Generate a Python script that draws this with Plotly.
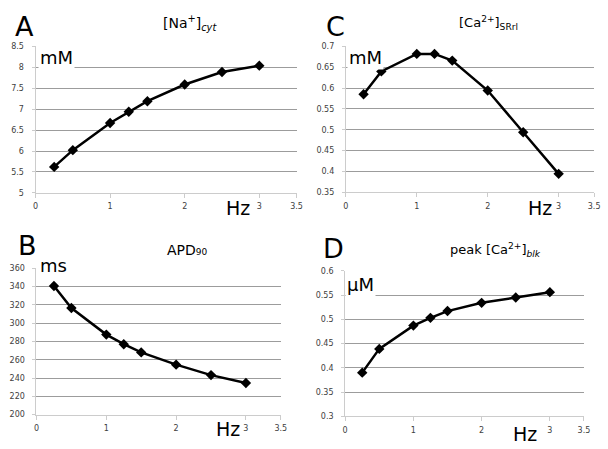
import plotly.graph_objects as go

W, H = 608, 449

# Stimulation frequency (Hz)
freq = [0.25, 0.5, 1, 1.25, 1.5, 2, 2.5, 3]

# Steady-state quantities versus pacing frequency
na_cyt = [5.62, 6.02, 6.67, 6.94, 7.19, 7.59, 7.89, 8.04]           # mM
apd90 = [340.7, 316.5, 287.5, 277.0, 268.0, 254.6, 243.2, 234.5]     # ms
ca_srrl = [0.585, 0.640, 0.682, 0.682, 0.666, 0.594, 0.494, 0.394]   # mM
ca_blk = [0.390, 0.439, 0.487, 0.503, 0.517, 0.534, 0.545, 0.556]    # uM

x_ticks = [0, 1, 2, 3, 3.5]
x_ticktext = ["0", "1", "2", "3", "3.5"]


def px(x):
    return x / W


def py(y):
    return 1 - y / H


# panel boxes in pixels: (left, right, top, bottom)
boxes = {
    "A": (33, 298, 43.3, 192.7),
    "C": (348, 600, 43.3, 192.0),
    "B": (34, 282, 269.7, 419.0),
    "D": (347.3, 589.7, 272.3, 420.7),
}

panels = [
    # key, axis suffix, data, y range, y dtick
    ("A", "", na_cyt, [5, 8.5], 0.5),
    ("C", "2", ca_srrl, [0.35, 0.7], 0.05),
    ("B", "3", apd90, [200, 360], 20),
    ("D", "4", ca_blk, [0.3, 0.6], 0.05),
]

GRID = "#9c9c9c"
AXIS = "#cccccc"
TICKCOL = "#404040"
FONT = "DejaVu Sans"

fig = go.Figure()
layout = dict(
    width=W, height=H,
    margin=dict(l=0, r=0, t=0, b=0),
    paper_bgcolor="white", plot_bgcolor="white",
    showlegend=False,
    font=dict(family=FONT, color="black"),
)

for key, sfx, vals, yr, dy in panels:
    l, r, t, b = boxes[key]
    fig.add_trace(go.Scatter(
        x=freq, y=vals, mode="lines+markers",
        line=dict(color="black", width=2.5),
        marker=dict(symbol="diamond", size=8, color="black"),
        xaxis="x" + sfx, yaxis="y" + sfx,
    ))
    layout["xaxis" + sfx] = dict(
        domain=[px(l), px(r)], range=[0, 3.5], anchor="y" + sfx,
        tickvals=x_ticks, ticktext=x_ticktext,
        showgrid=False, zeroline=False,
        showline=True, linecolor=AXIS, linewidth=1,
        ticks="outside", ticklen=4, tickcolor=AXIS,
        ticklabelstandoff=2,
        tickfont=dict(size=8, color=TICKCOL, family=FONT),
        fixedrange=True,
    )
    layout["yaxis" + sfx] = dict(
        domain=[py(b), py(t)], range=yr, anchor="x" + sfx,
        dtick=dy, tick0=yr[0],
        showgrid=True, gridcolor=GRID, gridwidth=1, zeroline=False,
        showline=True, linecolor=AXIS, linewidth=1,
        ticks="outside", ticklen=3, tickcolor=AXIS,
        ticklabelstandoff=6,
        tickfont=dict(size=8, color=TICKCOL, family=FONT),
        fixedrange=True,
    )

fig.update_layout(**layout)

anns = [
    # panel letters
    ("A", 22, 23, 27, False),
    ("C", 337, 23, 27, False),
    ("B", 25, 246, 27, False),
    ("D", 335, 249, 27, False),
    # panel titles
    ("[Na<sup>+</sup>]<sub><i>cyt</i></sub>", 190, 19, 14, False),
    ("[Ca<sup>2+</sup>]<sub>SRrl</sub>", 493, 19, 13, False),
    ("APD<span style='font-size:9px'>90</span>", 187, 251, 14, False),
    ("peak [Ca<sup>2+</sup>]<sub><i>blk</i></sub>", 500, 251, 13, False),
    # units
    ("mM", 54, 55, 18, True),
    ("mM", 368, 55, 18, True),
    ("ms", 51, 267, 18, True),
    ("\u00b5M", 363, 286, 18, True),
    ("Hz", 239, 208, 19, False),
    ("Hz", 545, 208, 19, False),
    ("Hz", 228, 434, 19, False),
    ("Hz", 530, 439, 19, False),
]
for text, x, y, size, boxed in anns:
    fig.add_annotation(
        text=text, x=px(x), y=py(y), xref="paper", yref="paper",
        xanchor="center", yanchor="middle", showarrow=False,
        font=dict(size=size, color="black", family=FONT),
        bgcolor="white" if boxed else "rgba(0,0,0,0)",
        borderpad=1,
    )

fig.write_html("out.html")
